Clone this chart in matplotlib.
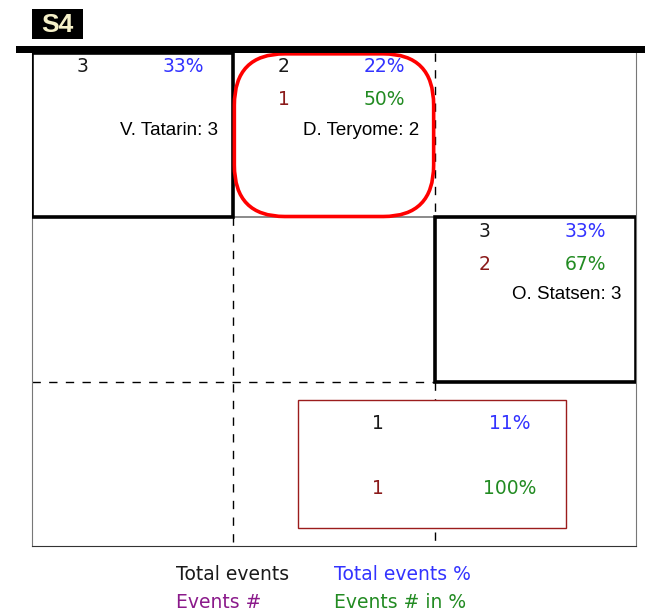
"""Seating grid with event counts per cell."""

import matplotlib

matplotlib.use("Agg")
import matplotlib.pyplot as plt
from matplotlib.patches import FancyBboxPatch, Rectangle

W, H = 645, 616

# cell data: (row, col)
cell_pos = [(0, 0), (0, 1), (1, 2)]
cell_total = [3, 2, 3]
cell_total_pct = ["33%", "22%", "33%"]
cell_events = [None, 1, 2]
cell_events_pct = [None, "50%", "67%"]
cell_names = ["V. Tatarin: 3", "D. Teryome: 2", "O. Statsen: 3"]
cell_style = ["thick", "rounded", "thick"]

# summary box at the bottom
summary_total = 1
summary_total_pct = "11%"
summary_events = 1
summary_events_pct = "100%"

legend_labels = ["Total events", "Total events %", "Events #", "Events # in %"]

C_TOTAL = "#1a1a1a"
C_PCT = "#3333ff"
C_EVENTS = "#8b1a1a"
C_EVENTS_PCT = "#228b22"
C_LEGEND_EVENTS = "#8b1a8b"

fig = plt.figure(figsize=(W / 100, H / 100), dpi=100)


def fx(px):
    return px / W


def fy(py):
    return 1 - py / H


# grid axes spanning pixels x 32..636, y 53..546
ax = fig.add_axes([fx(32), fy(546), fx(636) - fx(32), fy(53) - fy(546)])
ax.set_xlim(0, 3)
ax.set_ylim(3, 0)
ax.set_xticks([])
ax.set_yticks([])
for side in ["left", "right"]:
    ax.spines[side].set_color("#777777")
ax.spines["bottom"].set_color("#333333")
ax.spines["top"].set_visible(False)

# inner grid lines
ax.plot([1, 1], [1, 3], color="black", lw=1, ls=(0, (6, 6)))
ax.plot([2, 2], [0, 1], color="black", lw=1, ls=(0, (6, 6)))
ax.plot([2, 2], [2, 3], color="black", lw=1, ls=(0, (6, 6)))
ax.plot([0, 2], [2, 2], color="black", lw=1, ls=(0, (6, 6)))
ax.plot([1, 2], [1, 1], color="#777777", lw=1.2)

fs = 13.5
for (r, c), tot, tp, ev, ep, name, style in zip(
    cell_pos, cell_total, cell_total_pct, cell_events, cell_events_pct, cell_names, cell_style
):
    if style == "thick":
        ax.add_patch(Rectangle((c, r), 1, 1, fill=False, ec="black", lw=2.6, zorder=3))
    else:
        ax.add_patch(FancyBboxPatch((c + 0.005, r + 0.005), 0.99, 0.99,
                                    boxstyle="round,pad=0,rounding_size=0.25",
                                    mutation_aspect=1.25, fill=False, ec="#ff0000",
                                    lw=2.6, zorder=3))
    ax.text(c + 0.25, r + 0.085, str(tot), color=C_TOTAL, fontsize=fs, ha="center", va="center")
    ax.text(c + 0.75, r + 0.085, tp, color=C_PCT, fontsize=fs, ha="center", va="center")
    if ev is not None:
        ax.text(c + 0.25, r + 0.285, str(ev), color=C_EVENTS, fontsize=fs, ha="center", va="center")
        ax.text(c + 0.75, r + 0.285, ep, color=C_EVENTS_PCT, fontsize=fs, ha="center", va="center")
    ax.text(c + 0.925, r + 0.47, name, color="black", fontsize=13.5, ha="right", va="center",
            family="Liberation Sans")

# summary box
ax.add_patch(Rectangle((1.323, 2.109), 1.329, 0.781, fc="white", ec="#9b1c1c", lw=1, zorder=4))
ax.text(1.716, 2.255, str(summary_total), color=C_TOTAL, fontsize=fs, ha="center", va="center", zorder=5)
ax.text(2.373, 2.255, summary_total_pct, color=C_PCT, fontsize=fs, ha="center", va="center", zorder=5)
ax.text(1.716, 2.648, str(summary_events), color=C_EVENTS, fontsize=fs, ha="center", va="center", zorder=5)
ax.text(2.373, 2.648, summary_events_pct, color=C_EVENTS_PCT, fontsize=fs, ha="center", va="center", zorder=5)

# top bar and title tag
fig.add_artist(Rectangle((fx(16), fy(53)), fx(645) - fx(16), fy(46) - fy(53),
                         transform=fig.transFigure, fc="black", ec="none"))
fig.add_artist(Rectangle((fx(32), fy(39)), fx(83) - fx(32), fy(9) - fy(39),
                         transform=fig.transFigure, fc="black", ec="none"))
fig.text(fx(57.5), fy(25), "S4", color="#f5f0c8", fontsize=19, fontweight="bold",
         ha="center", va="center", family="Liberation Sans")

# legend
legend_colors = [C_TOTAL, C_PCT, C_LEGEND_EVENTS, C_EVENTS_PCT]
legend_xy = [(176, 574), (334, 574), (176, 603), (334, 603)]
for label, color, (px, py) in zip(legend_labels, legend_colors, legend_xy):
    fig.text(fx(px), fy(py), label, color=color, fontsize=13.5, ha="left", va="center")

fig.savefig("out.png", dpi=100)
